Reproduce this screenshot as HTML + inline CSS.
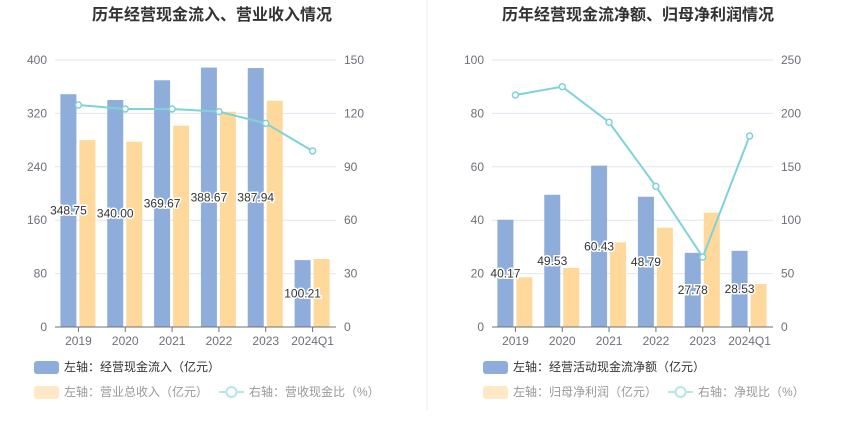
<!DOCTYPE html>
<html><head><meta charset="utf-8"><style>
body{margin:0;background:#fff;width:850px;height:437px;overflow:hidden;font-family:"Liberation Sans","Noto Sans CJK SC",sans-serif}
svg text{font-family:"Liberation Sans","Noto Sans CJK SC",sans-serif}
</style></head><body>
<svg id="c" width="850" height="437">
<line x1="427" y1="0" x2="427" y2="410" stroke="#eeeeee"/>
</svg>
<script>
const categories=["2019","2020","2021","2022","2023","2024Q1"];
const leftBlue=[348.75,340.00,369.67,388.67,387.94,100.21];
const leftYellow=[280,277.6,301.6,322.5,339,101.9];
const leftLine=[124.7,122.5,122.5,121,114.4,98.9];
const leftTicks=[0,80,160,240,320,400];
const leftRTicks=[0,30,60,90,120,150];
const rightBlue=[40.17,49.53,60.43,48.79,27.78,28.53];
const rightYellow=[18.6,22.1,31.7,37.2,42.8,16.1];
const rightLine=[217.2,225,191.7,131.7,65.5,178.8];
const rightTicks=[0,20,40,60,80,100];
const rightRTicks=[0,50,100,150,200,250];
const NS="http://www.w3.org/2000/svg";
const svg=document.getElementById('c');
function mk(tag,attrs,parent){const e=document.createElementNS(NS,tag);for(const k in attrs)e.setAttribute(k,attrs[k]);(parent||svg).appendChild(e);return e;}
function panel(p){
  const g=mk('g',{});
  
  
  const y0=327,y1=60,x0=p.x0,x1=p.x1;
  const yL=v=>y0-(v/p.lmax)*(y0-y1);
  const yR=v=>y0-(v/p.rmax)*(y0-y1);
  const bw=(x1-x0)/categories.length;
  const cx=i=>x0+bw*(i+0.5);
  const t=mk('text',{x:(p.cx),y:20,'text-anchor':'middle','font-size':'16','font-weight':'bold',fill:'#333'},g);
  t.textContent=p.title;
  
  
  p.lt.forEach((v,i)=>{
    const y=yL(v);
    if(v>0){const l=mk('line',{x1:x0,x2:x1,y1:y,y2:y,stroke:'#e0e6f1'},g);
    }
    const a=mk('text',{x:x0-8,y:y+4,'text-anchor':'end','font-size':'12',fill:'#6e7079'},g);a.textContent=v;
    
    const b=mk('text',{x:x1+8,y:yR(p.rt[i])+4,'font-size':'12',fill:'#6e7079'},g);b.textContent=p.rt[i];
    
  });
  categories.forEach((c,i)=>{
    const b=mk('rect',{x:cx(i)-18,y:yL(p.blue[i]),width:16,height:y0-yL(p.blue[i]),fill:'#8eadda'},g);
    
    const r=mk('rect',{x:cx(i)+1,y:yL(p.yellow[i]),width:16,height:y0-yL(p.yellow[i]),fill:'#ffd99b'},g);
    
    const tk=mk('line',{x1:cx(i),x2:cx(i),y1:y0,y2:y0+5,stroke:'#6e7079'},g);
    
    const xl=mk('text',{x:cx(i),y:y0+18,'text-anchor':'middle','font-size':'12',fill:'#6e7079'},g);xl.textContent=c;
    
  });
  const ax=mk('line',{x1:x0,x2:x1,y1:y0,y2:y0,stroke:'#6e7079'},g);
  
  const pts=p.line.map((v,i)=>cx(i)+','+yR(v)).join(' ');
  const pl=mk('polyline',{points:pts,fill:'none',stroke:'#7fd3d8','stroke-width':2},g);
  
  p.line.forEach((v,i)=>{const c=mk('circle',{cx:cx(i),cy:yR(v),r:3,fill:'#fff',stroke:'#7fd3d8','stroke-width':1.5},g);
    });
  p.blue.forEach((v,i)=>{
    const l=mk('text',{x:cx(i)-10,y:(yL(v)+y0)/2+4,'text-anchor':'middle','font-size':'12',fill:'#333',stroke:'#fff','stroke-width':3,'paint-order':'stroke'},g);
    l.textContent=v.toFixed(2);
    
  });
  const L=p.lx;
  function leg(x,y,type,col,txt,tc){
    const lg=mk('g',{},g);
    
    if(type==='rect')mk('rect',{x:x,y:y-6,width:25,height:13,rx:3,fill:col},lg);
    else{mk('line',{x1:x,x2:x+25,y1:y,y2:y,stroke:col,'stroke-width':2},lg);mk('circle',{cx:x+12.5,cy:y,r:5,fill:'#fff',stroke:col,'stroke-width':2},lg);}
    const tt=mk('text',{x:x+30,y:y+4,'font-size':'12',fill:tc},lg);tt.textContent=txt;
  }
  leg(L,367,'rect','#8eadda',p.leg[0],'#333');
  leg(L,392,'rect','#ffe8c6',p.leg[1],'#999');
  leg(L+185,392,'line','#b4e6ea',p.leg[2],'#999');
}
panel({name:'left-chart',title:'历年经营现金流入、营业收入情况',cx:212,x0:55,x1:336,lmax:400,rmax:150,lt:leftTicks,rt:leftRTicks,blue:leftBlue,yellow:leftYellow,line:leftLine,lx:34,leg:['左轴：经营现金流入（亿元）','左轴：营业总收入（亿元）','右轴：营收现金比（%）']});
panel({name:'right-chart',title:'历年经营现金流净额、归母净利润情况',cx:638,x0:492,x1:773,lmax:100,rmax:250,lt:rightTicks,rt:rightRTicks,blue:rightBlue,yellow:rightYellow,line:rightLine,lx:483,leg:['左轴：经营活动现金流净额（亿元）','左轴：归母净利润（亿元）','右轴：净现比（%）']});
</script>
</body></html>
